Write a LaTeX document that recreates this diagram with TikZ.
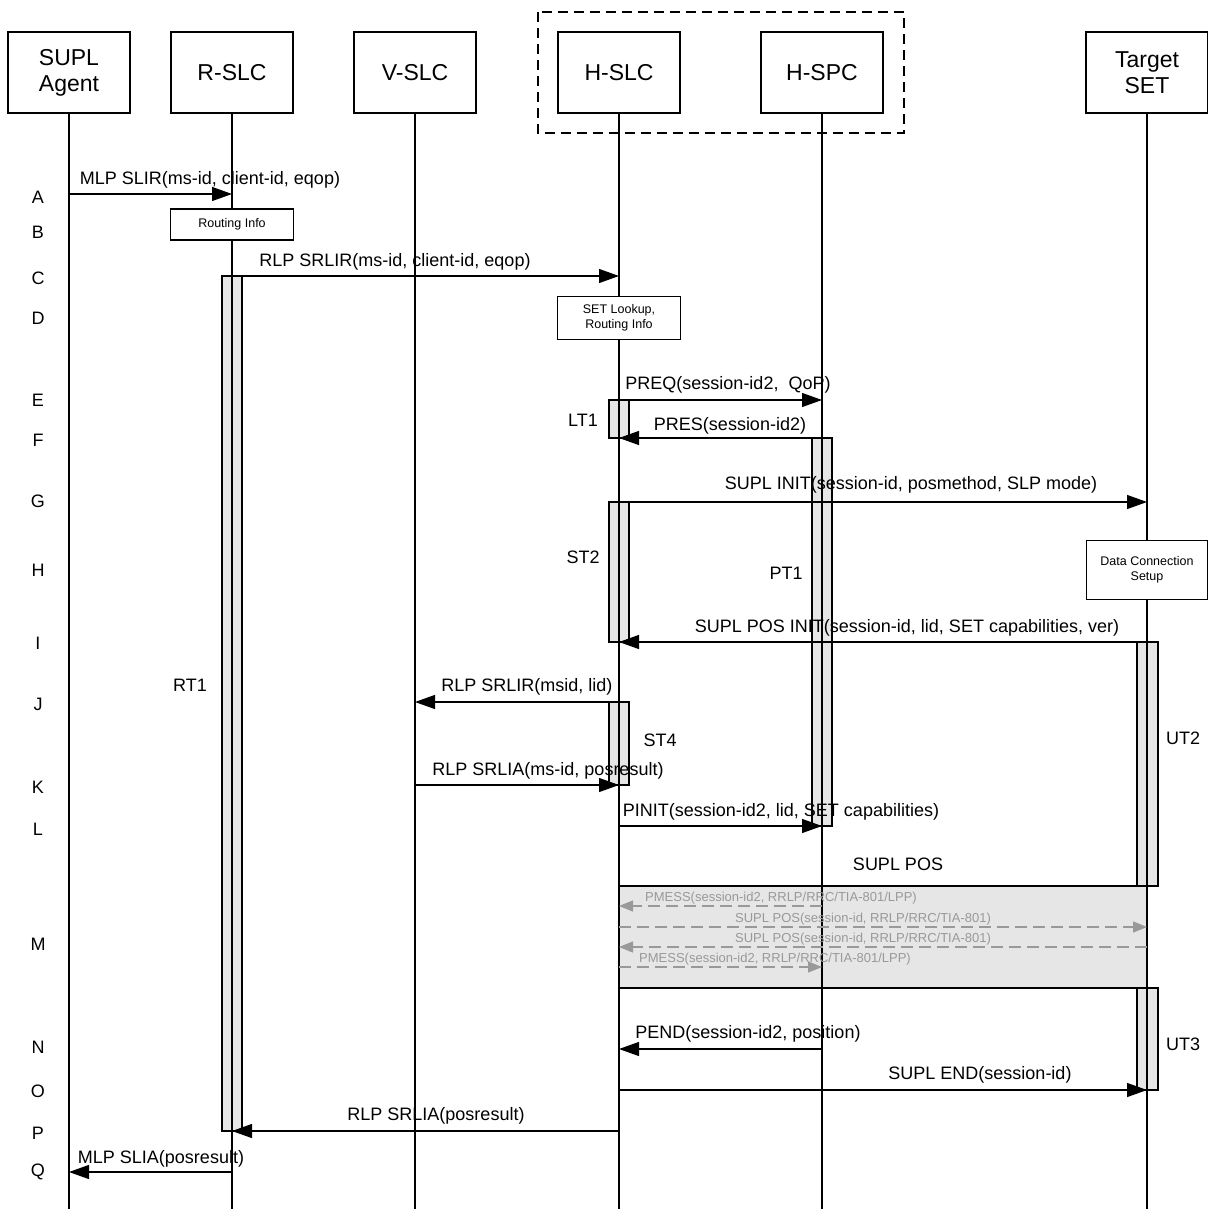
\documentclass[tikz,border=0pt]{standalone}
\usepackage{fontspec}
\setmainfont{Liberation Sans}
\usetikzlibrary{arrows.meta}
\definecolor{barfill}{HTML}{E6E6E6}
\definecolor{msggray}{HTML}{999999}
\begin{document}
\begin{tikzpicture}[x=1pt,y=-1pt,
 actor/.style={draw, line width=1.2pt, minimum width=122pt, minimum height=81pt, align=center, font=\fontsize{23}{26}\selectfont, inner sep=0pt},
 note/.style={draw, fill=white, line width=1.2pt, align=center, font=\fontsize{12.5}{15}\selectfont, inner sep=0pt},
 life/.style={line width=1.2pt},
 msg/.style={line width=1.2pt, -{Triangle[length=20pt,width=14pt]}},
 gmsg/.style={line width=1.2pt, draw=msggray, dash pattern=on 12pt off 6pt, -{Triangle[length=14pt,width=11pt,fill=msggray]}},
 act/.style={draw, fill=barfill, line width=1.2pt},
 lbl/.style={font=\fontsize{18}{21}\selectfont, inner sep=0pt},
 glbl/.style={font=\fontsize{13}{15}\selectfont, text=msggray, inner sep=0pt},
 rowlbl/.style={font=\fontsize{18}{21}\selectfont, inner sep=0pt},
 grp/.style={line width=1.2pt, dash pattern=on 10pt off 6pt}
]
\useasboundingbox[fill=white] (0,0) rectangle (1207,1209);
\coordinate (bot) at (0,1209);

% actors
\node[actor] (sa) at (69,72.5) {SUPL\\Agent};
\node[actor] (rs) at (232,72.5) {R-SLC};
\node[actor] (vs) at (415,72.5) {V-SLC};
\node[actor] (hs) at (619,72.5) {H-SLC};
\node[actor] (hp) at (822,72.5) {H-SPC};
\node[actor] (ts) at (1147,72.5) {Target\\SET};
\draw[grp] (538,12) rectangle (904,133);

% M region box
\draw[act] (hs |- 0,886) rectangle (ts |- 0,988);

% activation bars
\draw[act] (222,276) rectangle (242,1131);
\draw[act] (609,400) rectangle (629,438);
\draw[act] (609,502) rectangle (629,642);
\draw[act] (812,438) rectangle (832,826);
\draw[act] (609,702) rectangle (629,785);
\draw[act] (1137,642) rectangle (1158,886);
\draw[act] (1137,988) rectangle (1158,1090);

% lifelines
\foreach \n in {sa,rs,vs,hs,hp,ts}
  \draw[life] (\n.south) -- (\n.south |- bot);

% notes
\node[note, minimum width=123pt, minimum height=31pt] (ri) at (232,224.5) {Routing Info};
\node[note, minimum width=123pt, minimum height=43pt] (sl) at (619,318) {SET Lookup,\\Routing Info};
\node[note, minimum width=121pt, minimum height=59pt] (dc) at (1147,570) {Data Connection\\Setup};

% messages
\draw[msg] (sa |- 0,194) -- (rs |- 0,194);
\node[lbl] at (210,180) {MLP SLIR(ms-id, client-id, eqop)};
\draw[msg] (rs |- 0,276) -- (hs |- 0,276);
\node[lbl] at (395,262) {RLP SRLIR(ms-id, client-id, eqop)};
\draw[msg] (hs |- 0,400) -- (hp |- 0,400);
\node[lbl] at (728,385) {PREQ(session-id2,\ \ QoP)};
\draw[msg] (hp |- 0,438) -- (hs |- 0,438);
\node[lbl] at (730,426) {PRES(session-id2)};
\draw[msg] (hs |- 0,502) -- (ts |- 0,502);
\node[lbl] at (911,485) {SUPL INIT(session-id, posmethod, SLP mode)};
\draw[msg] (ts |- 0,642) -- (hs |- 0,642);
\node[lbl] at (907,628) {SUPL POS INIT(session-id, lid, SET capabilities, ver)};
\draw[msg] (hs |- 0,702) -- (vs |- 0,702);
\node[lbl] at (527,687) {RLP SRLIR(msid, lid)};
\draw[msg] (vs |- 0,785) -- (hs |- 0,785);
\node[lbl] at (548,771) {RLP SRLIA(ms-id, posresult)};
\draw[msg] (hs |- 0,826) -- (hp |- 0,826);
\node[lbl] at (781,812) {PINIT(session-id2, lid, SET capabilities)};
\node[lbl] at (898,864) {SUPL POS};

\draw[gmsg] (hp |- 0,906) -- (hs |- 0,906);
\node[glbl] at (781,898) {PMESS(session-id2, RRLP/RRC/TIA-801/LPP)};
\draw[gmsg] (hs |- 0,927) -- (ts |- 0,927);
\node[glbl] at (863,919) {SUPL POS(session-id, RRLP/RRC/TIA-801)};
\draw[gmsg] (ts |- 0,947) -- (hs |- 0,947);
\node[glbl] at (863,939) {SUPL POS(session-id, RRLP/RRC/TIA-801)};
\draw[gmsg] (hs |- 0,967) -- (hp |- 0,967);
\node[glbl] at (775,959) {PMESS(session-id2, RRLP/RRC/TIA-801/LPP)};

\draw[msg] (hp |- 0,1049) -- (hs |- 0,1049);
\node[lbl] at (748,1034) {PEND(session-id2, position)};
\draw[msg] (hs |- 0,1090) -- (ts |- 0,1090);
\node[lbl] at (980,1075) {SUPL END(session-id)};
\draw[msg] (hs |- 0,1131) -- (rs |- 0,1131);
\node[lbl] at (436,1116) {RLP SRLIA(posresult)};
\draw[msg] (rs |- 0,1172) -- (sa |- 0,1172);
\node[lbl] at (161,1159) {MLP SLIA(posresult)};

% timer labels
\node[lbl] at (190,685) {RT1};
\node[lbl] at (583,420) {LT1};
\node[lbl] at (583,557) {ST2};
\node[lbl] at (786,573) {PT1};
\node[lbl] at (660,740) {ST4};
\node[lbl] at (1183,738) {UT2};
\node[lbl] at (1183,1044) {UT3};

% row letters
\foreach \l/\y in {A/197,B/232,C/278,D/318,E/400,F/440,G/501,H/570,I/643,J/704,K/787,L/829,M/944,N/1047,O/1091,P/1133,Q/1172}
  \node[rowlbl] at (38,\y) {\l};
\end{tikzpicture}
\end{document}
